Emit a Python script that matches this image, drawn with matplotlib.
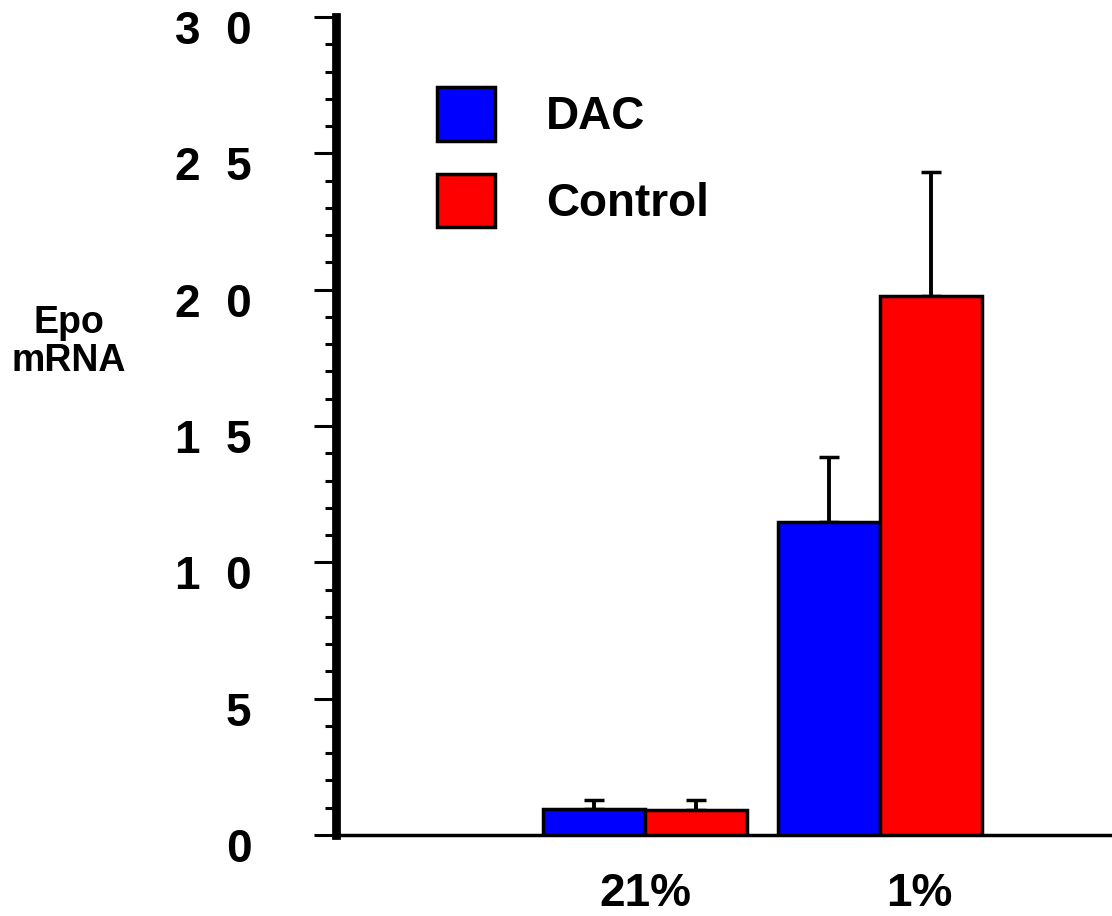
import matplotlib
matplotlib.use('agg')
import matplotlib.pyplot as plt
from matplotlib.ticker import MultipleLocator
from matplotlib.transforms import ScaledTranslation
import numpy as np

plt.rcParams['font.family'] = ['Liberation Sans', 'DejaVu Sans']
plt.rcParams['font.weight'] = 'bold'

# data
groups = ['21%', '1%']
dac = [0.97, 11.48]
dac_err = [0.31, 2.38]
control = [0.90, 19.78]
control_err = [0.38, 4.53]
ytick_vals = [0, 5, 10, 15, 20, 25, 30]
ytick_text = ['0', '5', '1  0', '1  5', '2  0', '2  5', '3  0']

fig = plt.figure(figsize=(11.12, 9.16), dpi=100)
ax = fig.add_axes([336/1112, (916-835)/916, (1112-336)/1112, (835-17)/916])

x = np.arange(len(groups))
width = 0.435

# bars + upper error bars only
ax.bar(x - width/2, dac, width, color='#0000ff', edgecolor='black', linewidth=2.5, label='DAC', zorder=3)
ax.bar(x + width/2, control, width, color='#ff0000', edgecolor='black', linewidth=2.5, label='Control', zorder=3)
ax.errorbar(x - width/2, dac, yerr=[np.zeros(len(dac)), dac_err], fmt='none',
            ecolor='black', elinewidth=2.8, capsize=7.5, capthick=2.5, zorder=2)
ax.errorbar(x + width/2, control, yerr=[np.zeros(len(control)), control_err], fmt='none',
            ecolor='black', elinewidth=2.8, capsize=7.5, capthick=2.5, zorder=2)

ax.set_xlim(-1.318, 1.991)
ax.set_ylim(0, 30)

# spines
ax.spines['top'].set_visible(False)
ax.spines['right'].set_visible(False)
ax.spines['left'].set_linewidth(6.3)
ax.spines['bottom'].set_linewidth(2.5)

# ticks
ax.set_yticks(ytick_vals)
ax.set_yticklabels(ytick_text)
ax.yaxis.set_minor_locator(MultipleLocator(1))
ax.tick_params(axis='y', which='major', length=16, width=2.2, pad=45, labelsize=33)
ax.tick_params(axis='y', which='minor', length=8, width=2.2)
ax.set_xticks(x)
ax.set_xticklabels(groups)
ax.tick_params(axis='x', length=0, pad=27, labelsize=33)

# labels sit a little below their ticks in the original
down = ScaledTranslation(0, -0.10, fig.dpi_scale_trans)
for lab in ax.get_yticklabels():
    lab.set_transform(lab.get_transform() + down)
xl = ax.get_xticklabels()
xl[1].set_transform(xl[1].get_transform() + ScaledTranslation(0.40, 0, fig.dpi_scale_trans))

# y label, horizontal, two lines
fig.text(69/1112, 1 - 342/916, 'Epo\nmRNA', ha='center', va='center',
         fontsize=27, fontweight='bold', linespacing=1.1)

# legend
ax.legend(loc='upper left', bbox_to_anchor=(437/1112, 1 - 87/916), bbox_transform=fig.transFigure,
          frameon=False, fontsize=33, handlelength=1.27, handleheight=1.42,
          handletextpad=1.1, labelspacing=0.72, borderpad=0, borderaxespad=0)

plt.savefig('out.png', dpi=100)
plt.close()
